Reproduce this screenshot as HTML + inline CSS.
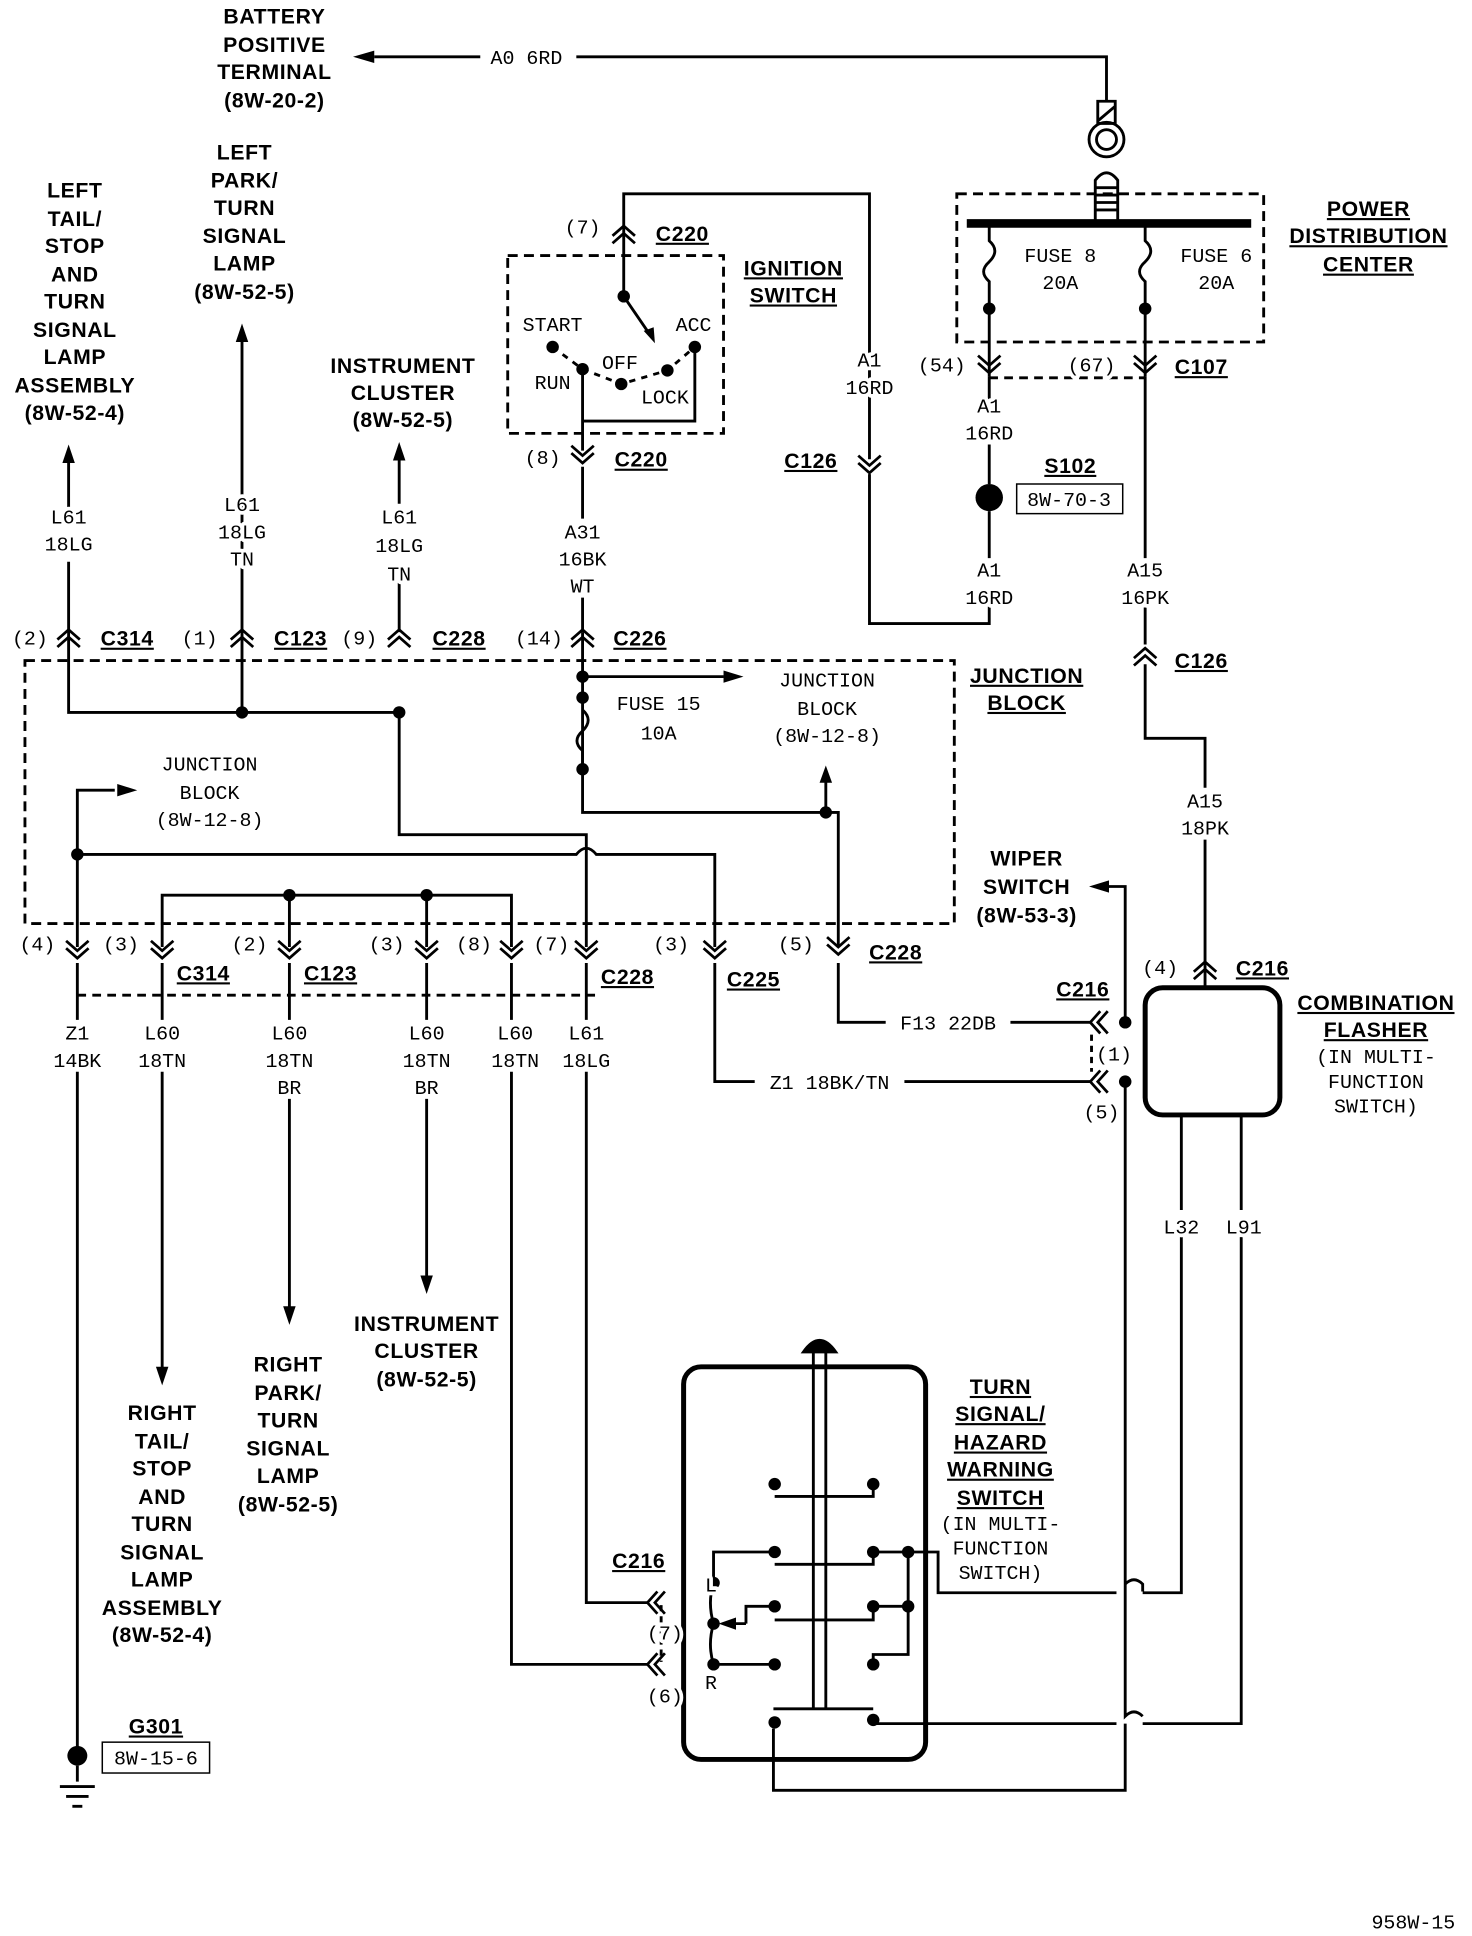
<!DOCTYPE html>
<html><head><meta charset="utf-8"><style>
html,body{margin:0;padding:0;background:#fff;}
svg{display:block}
.b{font-family:"Liberation Sans",sans-serif;font-weight:bold;font-size:17px;text-anchor:middle;letter-spacing:0.5px}
.r{font-family:"Liberation Mono",monospace;font-size:16px;text-anchor:middle;paint-order:stroke;stroke:#fff;stroke-width:6px;stroke-linejoin:round}
</style></head><body>
<svg width="1472" height="1936" viewBox="0 0 1180 1568" preserveAspectRatio="none" xmlns="http://www.w3.org/2000/svg">
<defs>
<g id="cu"><path d="M-9 5 L0 -3 L9 5 M-9 11 L0 3 L9 11" fill="none" stroke="#000" stroke-width="2.2"/></g>
<g id="cd"><path d="M-9 -5 L0 3 L9 -5 M-9 -11 L0 -3 L9 -11" fill="none" stroke="#000" stroke-width="2.2"/></g>
<g id="cl"><path d="M5 -9 L-3 0 L5 9 M11 -9 L3 0 L11 9" fill="none" stroke="#000" stroke-width="2.2"/></g>
</defs>
<rect width="1180" height="1568" fill="#fff"/>
<g fill="none" stroke="#000" stroke-width="2.3">
<path d="M300 46 L385 46 M462 46 L887 46 L887 82"/>
<path d="M880 82 h14 v18 h-14 z M880 98 L894 86"/>
<circle cx="887" cy="113" r="14"/><circle cx="887" cy="113" r="8"/>
<path d="M878 178 V146 Q887 134 896 146 V178 M878 152h18 M878 158h18 M878 164h18 M878 170h18"/>
<rect x="767" y="157" width="246" height="120" stroke-dasharray="8,5"/>
<path d="M775 181 H1003" stroke-width="7"/>
<path d="M793 181 V195 Q802 203 793 212 Q784 220 793 228 V305 M918 181 V195 Q927 203 918 212 Q909 220 918 228 V305" />
<path d="M793 306 H918" stroke-dasharray="7,5"/>
<path d="M793 305 V330 M793 360 V392 M793 414 V452 M793 490 V505 H697 V384 M697 372 V157 H500 V192"/>
<path d="M918 305 V452 M918 492 V522 M918 538 V598 H966 V638 M966 680 V782"/>
<rect x="407" y="207" width="173" height="144" stroke-dasharray="8,5"/>
<path d="M500 192 V240 L523 274"/>
<path d="M443 281 L467 299 L498 311 L535 300 L557 281" stroke-dasharray="5,5"/>
<path d="M557 281 V341 H467 M467 299 V365"/>
<path d="M467 378 V420 M467 484 V512"/>
<path d="M55 512 V577 H320 M194 577 V275 M55 512 V455 M55 420 V372 M194 462 V400 M320 512 V472 M320 408 V372"/>
<path d="M320 577 V676 H470 V767"/>
<path d="M20 535 H765 V748 H20 Z" stroke-dasharray="8,5"/>
<path d="M467 512 V658 H662 V632 M467 548 H580"/>
<path d="M467 575 Q476 583 467 592 Q458 600 467 608 V623" />
<path d="M662 658 H672 V767"/>
<path d="M62 767 V640 H92 M62 692 H462 Q470 682 478 692 H573 V767"/>
<path d="M130 767 V725 H410 V767 M232 725 V767 M342 725 V767"/>
<path d="M62 806 H480" stroke-dasharray="7,5"/>
<path d="M62 780 V826 M62 868 V1418 M130 780 V826 M130 868 V1110 M232 780 V826 M232 890 V1062 M342 780 V826 M342 890 V1036"/>
<path d="M410 780 V826 M410 868 V1348 H520 M470 780 V826 M470 868 V1298 H520"/>
<path d="M62 1430 V1443 M48 1447 H76 M53 1455 H71 M58 1463 H66"/>
<path d="M672 780 V828 H710 M810 828 H875 M573 780 V876 H605 M725 876 H875"/>
<path d="M875 838 V868" stroke-dasharray="5,4"/>
<path d="M902 828 V718 H886 M902 876 V1283 Q909 1276 916 1283 V1289 M902 1283 V1390 Q909 1383 916 1390 M902 1396 V1450 H620 V1400"/>
<path d="M966 782 V800"/>
<rect x="918" y="800" width="108" height="103" rx="14" stroke-width="4"/>
<path d="M947 903 V980 M947 1002 V1290 H916 M895 1290 H752 V1257 H728 M995 903 V980 M995 1002 V1396 H916 M895 1396 H700"/>
<rect x="548" y="1107" width="194" height="318" rx="14" stroke-width="4"/>
<path d="M652 1092 V1385 M662 1092 V1385 M620 1384 H700"/>
<path d="M644 1095 Q657 1076 670 1095 Z" fill="#000"/>
<path d="M621 1212 H700 V1202 M621 1267 H700 V1257 M621 1312 H700 V1301 M728 1257 V1340 H700 V1348 M700 1257 H728 M700 1301 H728"/>
<path d="M572 1282 V1257 H621 M572 1282 Q567 1298 572 1315 Q567 1332 572 1348 M572 1348 H621"/>
<path d="M598 1315 V1301 H621 M598 1315 H584"/>
<path d="M530 1300 V1346" stroke-dasharray="5,4"/>
</g>
<g fill="#000">
<polygon points="283,46 300,41 300,51"/>
<polygon points="525,278 516,268 524,265"/>
<polygon points="194,262 189,277 199,277"/>
<polygon points="55,360 50,375 60,375"/>
<polygon points="320,358 315,373 325,373"/>
<polygon points="596,548 580,543 580,553"/>
<polygon points="662,620 657,634 667,634"/>
<polygon points="110,640 94,635 94,645"/>
<polygon points="130,1122 125,1107 135,1107"/>
<polygon points="232,1073 227,1058 237,1058"/>
<polygon points="342,1048 337,1033 347,1033"/>
<polygon points="873,718 889,713 889,723"/>
<polygon points="576,1315 590,1310 590,1320"/>
<circle cx="793" cy="250" r="5"/><circle cx="918" cy="250" r="5"/>
<circle cx="793" cy="403" r="11"/>
<circle cx="500" cy="240" r="5"/><circle cx="443" cy="281" r="5"/><circle cx="467" cy="299" r="5"/><circle cx="498" cy="311" r="5"/><circle cx="535" cy="300" r="5"/><circle cx="557" cy="281" r="5"/>
<circle cx="194" cy="577" r="5"/><circle cx="320" cy="577" r="5"/>
<circle cx="467" cy="548" r="5"/><circle cx="467" cy="565" r="5"/><circle cx="467" cy="623" r="5"/><circle cx="662" cy="658" r="5"/>
<circle cx="62" cy="692" r="5"/><circle cx="232" cy="725" r="5"/><circle cx="342" cy="725" r="5"/>
<circle cx="62" cy="1422" r="8"/>
<circle cx="902" cy="828" r="5"/><circle cx="902" cy="876" r="5"/>
<circle cx="621" cy="1202" r="5"/><circle cx="621" cy="1257" r="5"/><circle cx="621" cy="1301" r="5"/><circle cx="621" cy="1348" r="5"/><circle cx="621" cy="1395" r="5"/>
<circle cx="700" cy="1202" r="5"/><circle cx="700" cy="1257" r="5"/><circle cx="700" cy="1301" r="5"/><circle cx="700" cy="1348" r="5"/><circle cx="700" cy="1393" r="5"/>
<circle cx="728" cy="1257" r="5"/><circle cx="728" cy="1301" r="5"/>
<circle cx="572" cy="1282" r="5"/><circle cx="572" cy="1315" r="5"/><circle cx="572" cy="1348" r="5"/>
</g>
<use href="#cu" x="500" y="186"/><use href="#cd" x="467" y="372"/>
<use href="#cd" x="793" y="299"/><use href="#cd" x="918" y="299"/>
<use href="#cd" x="697" y="380"/><use href="#cu" x="918" y="528"/>
<use href="#cu" x="55" y="513"/><use href="#cu" x="194" y="513"/><use href="#cu" x="320" y="513"/><use href="#cu" x="467" y="513"/>
<use href="#cd" x="62" y="773"/><use href="#cd" x="130" y="773"/><use href="#cd" x="232" y="773"/><use href="#cd" x="342" y="773"/><use href="#cd" x="410" y="773"/><use href="#cd" x="470" y="773"/><use href="#cd" x="573" y="773"/><use href="#cd" x="672" y="770"/>
<use href="#cu" x="966" y="782"/>
<use href="#cl" x="877" y="828"/><use href="#cl" x="877" y="876"/>
<use href="#cl" x="522" y="1298"/><use href="#cl" x="522" y="1348"/>
<g class="b">
<text x="220" y="19">BATTERY</text><text x="220" y="42">POSITIVE</text><text x="220" y="64">TERMINAL</text><text x="220" y="87">(8W-20-2)</text>
<text x="60" y="160">LEFT</text><text x="60" y="183">TAIL/</text><text x="60" y="205">STOP</text><text x="60" y="228">AND</text><text x="60" y="250">TURN</text><text x="60" y="273">SIGNAL</text><text x="60" y="295">LAMP</text><text x="60" y="318">ASSEMBLY</text><text x="60" y="340">(8W-52-4)</text>
<text x="196" y="129">LEFT</text><text x="196" y="152">PARK/</text><text x="196" y="174">TURN</text><text x="196" y="197">SIGNAL</text><text x="196" y="219">LAMP</text><text x="196" y="242">(8W-52-5)</text>
<text x="323" y="302">INSTRUMENT</text><text x="323" y="324">CLUSTER</text><text x="323" y="346">(8W-52-5)</text>
<text x="823" y="701">WIPER</text><text x="823" y="724">SWITCH</text><text x="823" y="747">(8W-53-3)</text>
<text x="130" y="1150">RIGHT</text><text x="130" y="1173">TAIL/</text><text x="130" y="1195">STOP</text><text x="130" y="1218">AND</text><text x="130" y="1240">TURN</text><text x="130" y="1263">SIGNAL</text><text x="130" y="1285">LAMP</text><text x="130" y="1308">ASSEMBLY</text><text x="130" y="1330">(8W-52-4)</text>
<text x="231" y="1111">RIGHT</text><text x="231" y="1134">PARK/</text><text x="231" y="1156">TURN</text><text x="231" y="1179">SIGNAL</text><text x="231" y="1201">LAMP</text><text x="231" y="1224">(8W-52-5)</text>
<text x="342" y="1078">INSTRUMENT</text><text x="342" y="1100">CLUSTER</text><text x="342" y="1123">(8W-52-5)</text>
</g>
<g class="b" text-decoration="underline">
<text x="1097" y="175">POWER</text><text x="1097" y="197">DISTRIBUTION</text><text x="1097" y="220">CENTER</text>
<text x="636" y="223">IGNITION</text><text x="636" y="245">SWITCH</text>
<text x="823" y="553">JUNCTION</text><text x="823" y="575">BLOCK</text>
<text x="1103" y="818">COMBINATION</text><text x="1103" y="840">FLASHER</text>
<text x="802" y="1129">TURN</text><text x="802" y="1151">SIGNAL/</text><text x="802" y="1174">HAZARD</text><text x="802" y="1196">WARNING</text><text x="802" y="1219">SWITCH</text>
<text x="547" y="195">C220</text><text x="514" y="378">C220</text><text x="650" y="379">C126</text><text x="963" y="303">C107</text><text x="858" y="383">S102</text><text x="963" y="541">C126</text>
<text x="102" y="523">C314</text><text x="241" y="523">C123</text><text x="368" y="523">C228</text><text x="513" y="523">C226</text>
<text x="163" y="794">C314</text><text x="265" y="794">C123</text><text x="503" y="797">C228</text><text x="604" y="799">C225</text><text x="718" y="777">C228</text>
<text x="868" y="807">C216</text><text x="1012" y="790">C216</text><text x="512" y="1270">C216</text><text x="125" y="1404">G301</text>
</g>
<g class="r">
<text x="422" y="52">A0 6RD</text>
<text x="850" y="212">FUSE 8</text><text x="850" y="234">20A</text><text x="975" y="212">FUSE 6</text><text x="975" y="234">20A</text>
<text x="443" y="268">START</text><text x="556" y="268">ACC</text><text x="443" y="315">RUN</text><text x="497" y="299">OFF</text><text x="533" y="327">LOCK</text>
<text x="467" y="189">(7)</text><text x="435" y="376">(8)</text>
<text x="755" y="301">(54)</text><text x="875" y="301">(67)</text>
<text x="697" y="297">A1</text><text x="697" y="319">16RD</text>
<text x="793" y="334">A1</text><text x="793" y="356">16RD</text><text x="793" y="467">A1</text><text x="793" y="489">16RD</text>
<text x="918" y="467">A15</text><text x="918" y="489">16PK</text><text x="966" y="654">A15</text><text x="966" y="676">18PK</text>
<text x="467" y="436">A31</text><text x="467" y="458">16BK</text><text x="467" y="480">WT</text>
<text x="55" y="424">L61</text><text x="55" y="446">18LG</text>
<text x="194" y="414">L61</text><text x="194" y="436">18LG</text><text x="194" y="458">TN</text>
<text x="320" y="424">L61</text><text x="320" y="447">18LG</text><text x="320" y="470">TN</text>
<text x="24" y="522">(2)</text><text x="160" y="522">(1)</text><text x="288" y="522">(9)</text><text x="432" y="522">(14)</text>
<text x="528" y="575">FUSE 15</text><text x="528" y="599">10A</text>
<text x="663" y="556">JUNCTION</text><text x="663" y="579">BLOCK</text><text x="663" y="601">(8W-12-8)</text>
<text x="168" y="624">JUNCTION</text><text x="168" y="647">BLOCK</text><text x="168" y="669">(8W-12-8)</text>
<text x="30" y="770">(4)</text><text x="97" y="770">(3)</text><text x="200" y="770">(2)</text><text x="310" y="770">(3)</text><text x="380" y="770">(8)</text><text x="442" y="770">(7)</text><text x="538" y="770">(3)</text><text x="638" y="770">(5)</text>
<text x="62" y="842">Z1</text><text x="62" y="864">14BK</text>
<text x="130" y="842">L60</text><text x="130" y="864">18TN</text>
<text x="232" y="842">L60</text><text x="232" y="864">18TN</text><text x="232" y="886">BR</text>
<text x="342" y="842">L60</text><text x="342" y="864">18TN</text><text x="342" y="886">BR</text>
<text x="413" y="842">L60</text><text x="413" y="864">18TN</text>
<text x="470" y="842">L61</text><text x="470" y="864">18LG</text>
<text x="760" y="834">F13 22DB</text><text x="665" y="882">Z1 18BK/TN</text>
<text x="893" y="859">(1)</text><text x="883" y="906">(5)</text><text x="930" y="789">(4)</text>
<text x="1103" y="861">(IN MULTI-</text><text x="1103" y="881">FUNCTION</text><text x="1103" y="901">SWITCH)</text>
<text x="947" y="999">L32</text><text x="997" y="999">L91</text>
<text x="802" y="1239">(IN MULTI-</text><text x="802" y="1259">FUNCTION</text><text x="802" y="1279">SWITCH)</text>
<text x="570" y="1289">L</text><text x="570" y="1368">R</text><text x="533" y="1328">(7)</text><text x="533" y="1379">(6)</text>
<text x="1133" y="1562">958W-15</text>
</g>
<rect x="815" y="392" width="85" height="24" fill="none" stroke="#000" stroke-width="1.2"/>
<text class="r" x="857" y="410">8W-70-3</text>
<rect x="82" y="1411" width="86" height="25" fill="none" stroke="#000" stroke-width="1.2"/>
<text class="r" x="125" y="1429">8W-15-6</text>
</svg>
</body></html>
